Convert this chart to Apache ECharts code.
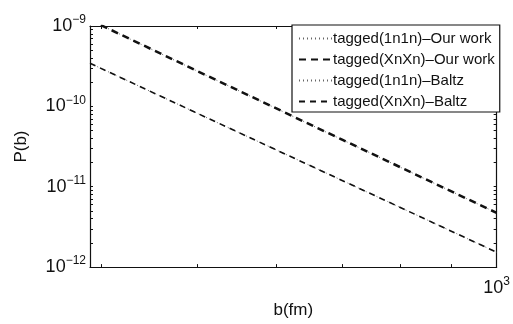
<!DOCTYPE html>
<html>
<head>
<meta charset="utf-8">
<script src="https://cdn.jsdelivr.net/npm/echarts@6/dist/echarts.min.js"></script>
<style>
  html, body { margin: 0; padding: 0; background: #fff; }
  #chart { width: 513px; height: 324px; }
</style>
</head>
<body>
<div id="chart"></div>
<script>
// impact parameter b (fm) and P(b)
const bOur = [390, 500, 700, 1000]
const xnxnOur = [1.19e-9, 2.75e-10, 3.83e-11, 4.73e-12]
const bBaltz = [390, 500, 700, 1000]
const xnxnBaltz = [3.44e-10, 8.2e-11, 1.19e-11, 1.53e-12]
// tagged 1n1n curves sit on top of the XnXn ones
const onenOur = xnxnOur
const onenBaltz = xnxnBaltz

const xTickVals = [400, 500, 600, 700, 800, 900, 1000]
const xLabelVals = [1000]
const yLabelVals = [1e-12, 1e-11, 1e-10, 1e-9]

const names = [
  'tagged(1n1n)\u2013Our work',
  'tagged(XnXn)\u2013Our work',
  'tagged(1n1n)\u2013Baltz',
  'tagged(XnXn)\u2013Baltz'
]

function pairs (xs, ys) {
  return xs.map((x, i) => [x, ys[i]])
}

// minor ticks 2..9 in each decade, like matlab
let yTickVals = []
for (let e = -12; e < -9; e++) {
  for (let m = 1; m < 10; m++) {
    yTickVals.push(+(m + 'e' + e))
  }
}
yTickVals.push(1e-9)

const font = 'Liberation Sans'
const xMin = 390
const xMax = 1000
const yMin = 1e-12
const yMax = 1e-9

const supRich = {
  b: { fontSize: 18, fontFamily: font, color: '#111' },
  s: { fontSize: 12, fontFamily: font, color: '#111', padding: [0, 0, 12, 0] }
}

function expLabel (v) {
  const e = Math.round(Math.log10(v))
  return '{b|10}{s|' + (e < 0 ? '\u2212' + (-e) : e) + '}'
}

const axisLine = { show: true, lineStyle: { color: '#111', width: 1.2 } }

const myChart = echarts.init(document.getElementById('chart'))
const option = {
  animation: false,
  backgroundColor: '#fff',
  grid: { left: 90, right: 16, top: 26, bottom: 52 },
  legend: {
    data: names,
    orient: 'vertical',
    left: 292,
    top: 25,
    padding: [6, 5, 3, 6],
    itemGap: 6,
    itemWidth: 33,
    itemHeight: 14,
    itemStyle: { opacity: 0 },
    backgroundColor: '#fff',
    borderColor: '#111',
    borderWidth: 1.2,
    borderRadius: 0,
    textStyle: { fontFamily: font, fontSize: 15, color: '#111', padding: [0, 0, 0, -4] }
  },
  xAxis: [
    {
      type: 'log',
      logBase: 10,
      min: xMin,
      max: xMax,
      name: 'b(fm)',
      nameLocation: 'middle',
      nameGap: 31,
      nameTextStyle: { fontFamily: font, fontSize: 17, color: '#111' },
      axisLine: axisLine,
      splitLine: { show: false },
      axisTick: { show: true, inside: true, length: 3, customValues: xTickVals, lineStyle: { color: '#111' } },
      axisLabel: {
        customValues: xLabelVals,
        margin: 9,
        formatter: expLabel,
        rich: supRich
      }
    },
    {
      type: 'log',
      logBase: 10,
      min: xMin,
      max: xMax,
      position: 'top',
      axisLine: axisLine,
      splitLine: { show: false },
      axisTick: { show: true, inside: true, length: 3, customValues: xTickVals, lineStyle: { color: '#111' } },
      axisLabel: { show: false }
    }
  ],
  yAxis: [
    {
      type: 'log',
      logBase: 10,
      min: yMin,
      max: yMax,
      name: 'P(b)',
      nameLocation: 'middle',
      nameGap: 60,
      nameRotate: 90,
      nameTextStyle: { fontFamily: font, fontSize: 17, color: '#111' },
      axisLine: axisLine,
      splitLine: { show: false },
      axisTick: { show: true, inside: true, length: 3, customValues: yTickVals, lineStyle: { color: '#111' } },
      axisLabel: {
        customValues: yLabelVals,
        margin: 4,
        formatter: expLabel,
        rich: supRich
      }
    },
    {
      type: 'log',
      logBase: 10,
      min: yMin,
      max: yMax,
      position: 'right',
      axisLine: axisLine,
      splitLine: { show: false },
      axisTick: { show: true, inside: true, length: 3, customValues: yTickVals, lineStyle: { color: '#111' } },
      axisLabel: { show: false }
    }
  ],
  series: [
    {
      name: names[0],
      type: 'line',
      data: pairs(bOur, onenOur),
      symbol: 'none',
      clip: true,
      color: '#666',
      lineStyle: { color: '#666', width: 1, type: [1, 3] }
    },
    {
      name: names[1],
      type: 'line',
      data: pairs(bOur, xnxnOur),
      symbol: 'none',
      clip: true,
      color: '#111',
      lineStyle: { color: '#111', width: 2.5, type: [7, 5] }
    },
    {
      name: names[2],
      type: 'line',
      data: pairs(bBaltz, onenBaltz),
      symbol: 'none',
      clip: true,
      color: '#666',
      lineStyle: { color: '#666', width: 1, type: [1, 3] }
    },
    {
      name: names[3],
      type: 'line',
      data: pairs(bBaltz, xnxnBaltz),
      symbol: 'none',
      clip: true,
      color: '#111',
      lineStyle: { color: '#111', width: 1.6, type: [6, 5] }
    }
  ]
}
myChart.setOption(option)
</script>
</body>
</html>
